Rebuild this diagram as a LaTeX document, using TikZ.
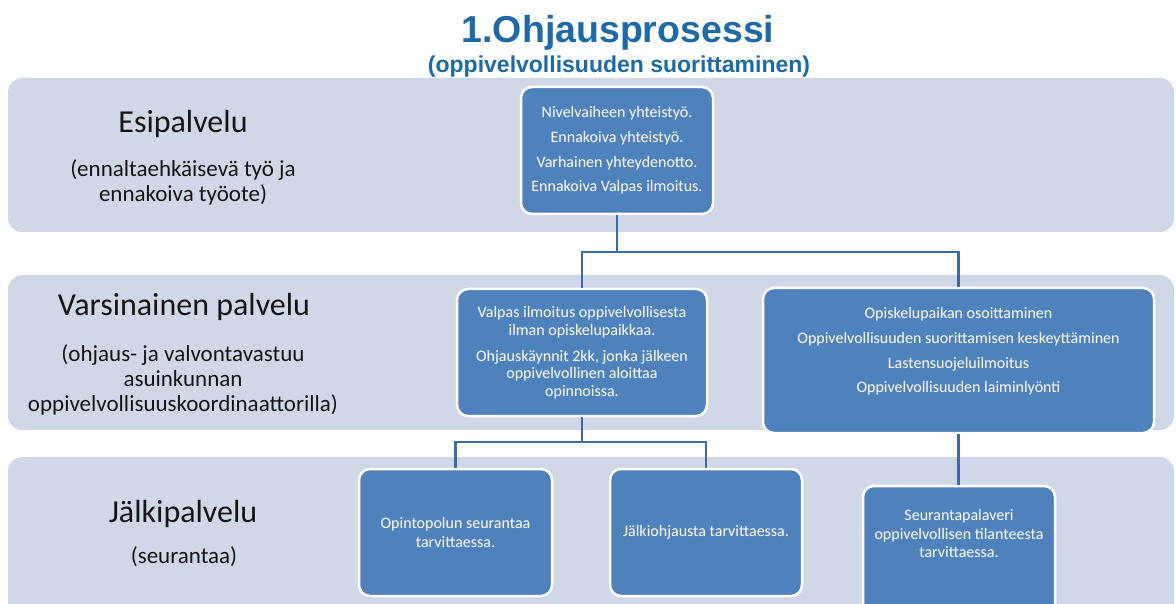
\documentclass[tikz,border=0pt]{standalone}
\usepackage{fontspec}
\setmainfont{Carlito}
\newfontfamily\arialfont{Liberation Sans}
\definecolor{bandfill}{RGB}{208,216,232}
\definecolor{boxblue}{RGB}{79,129,189}
\definecolor{linkblue}{RGB}{62,106,166}
\definecolor{titleblue}{RGB}{28,106,168}
\definecolor{labeltext}{RGB}{20,20,20}
\tikzset{
  band/.style={fill=bandfill, draw=none, rounded corners=14pt},
  bluebox/.style={draw=white, line width=2.5pt, fill=boxblue, rounded corners=11pt, inner sep=0pt},
  boxtext/.style={text=white, align=center, inner sep=0pt, font=\fontsize{16}{19}\selectfont},
  link/.style={draw=linkblue, line width=2.5pt},
  headtext/.style={text=labeltext, inner sep=0pt, anchor=base, font=\fontsize{32}{38}\selectfont},
  subtext/.style={text=labeltext, inner sep=0pt, align=center, font=\fontsize{23}{25}\selectfont},
  titletext/.style={text=titleblue, inner sep=0pt, anchor=base}
}
\begin{document}
\begin{tikzpicture}[x=1pt,y=-1pt]
\useasboundingbox (0,0) rectangle (1176,604);
% background bands
\path[band] (8,78) rectangle (1174,232);
\path[band] (8,275) rectangle (1174,430);
\path[band] (8,457) rectangle (1174,640);
% title
\node[titletext, font=\arialfont\bfseries\fontsize{37.5}{44}\selectfont] (title) at (618,43) {1.Ohjausprosessi};
\node[titletext, font=\arialfont\bfseries\fontsize{23}{27}\selectfont] (subtitle) at (619,73) {(oppivelvollisuuden suorittaminen)};
% left labels
\node[headtext] (h1) at (183,133) {Esipalvelu};
\node[subtext] (s1) at (183,182) {(ennaltaehkäisevä työ ja\\ennakoiva työote)};
\node[headtext] (h2) at (184,316) {Varsinainen palvelu};
\node[subtext] (s2) at (183,379.5) {(ohjaus- ja valvontavastuu\\asuinkunnan\\oppivelvollisuuskoordinaattorilla)};
\node[headtext] (h3) at (183,522) {Jälkipalvelu};
\node[subtext, anchor=base] (s3) at (184,563) {(seurantaa)};
% boxes
\node[bluebox, minimum width=192pt, minimum height=127pt] (b1) at (617,150.5) {};
\node[bluebox, minimum width=250pt, minimum height=127pt] (b2) at (582,352.5) {};
\node[bluebox, minimum width=391pt, minimum height=145pt] (b3) at (958.5,360.5) {};
\node[bluebox, minimum width=193pt, minimum height=127pt] (b4) at (455.5,532.5) {};
\node[bluebox, minimum width=192pt, minimum height=127pt] (b5) at (706,532.5) {};
\node[bluebox, minimum width=192pt, minimum height=145pt] (b6) at (959,558.5) {};
% box texts
\node[boxtext, font=\fontsize{16}{24.7}\selectfont] (t1) at (b1) {Nivelvaiheen yhteistyö.\\Ennakoiva yhteistyö.\\Varhainen yhteydenotto.\\Ennakoiva Valpas ilmoitus.};
\node[boxtext, font=\fontsize{16}{17.5}\selectfont] (t2) at (b2) {Valpas ilmoitus oppivelvollisesta\\ilman opiskelupaikkaa.\\[8.5pt]Ohjauskäynnit 2kk, jonka jälkeen\\oppivelvollinen aloittaa\\opinnoissa.};
\node[boxtext, font=\fontsize{16}{24.7}\selectfont] (t3) at ([yshift=9pt]b3.center) {Opiskelupaikan osoittaminen\\Oppivelvollisuuden suorittamisen keskeyttäminen\\Lastensuojeluilmoitus\\Oppivelvollisuuden laiminlyönti};
\node[boxtext] (t4) at (b4) {Opintopolun seurantaa\\tarvittaessa.};
\node[boxtext] (t5) at (b5) {Jälkiohjausta tarvittaessa.};
\node[boxtext, font=\fontsize{16}{18.5}\selectfont] (t6) at ([yshift=-49pt]b6.north) {Seurantapalaveri\\oppivelvollisen tilanteesta\\tarvittaessa.};
% connectors
\coordinate (bar1) at (0,252);
\coordinate (bar2) at (0,442);
\draw[link] (b1.south) -- (b1.south |- bar1) -| (b2.north);
\draw[link] (b1.south |- bar1) -| (b3.north);
\draw[link] (b2.south) -- (b2.south |- bar2) -| (b4.north);
\draw[link] (b2.south |- bar2) -| (b5.north);
\draw[link] (b3.south) -- (b3.south |- b6.north);
\end{tikzpicture}
\end{document}
